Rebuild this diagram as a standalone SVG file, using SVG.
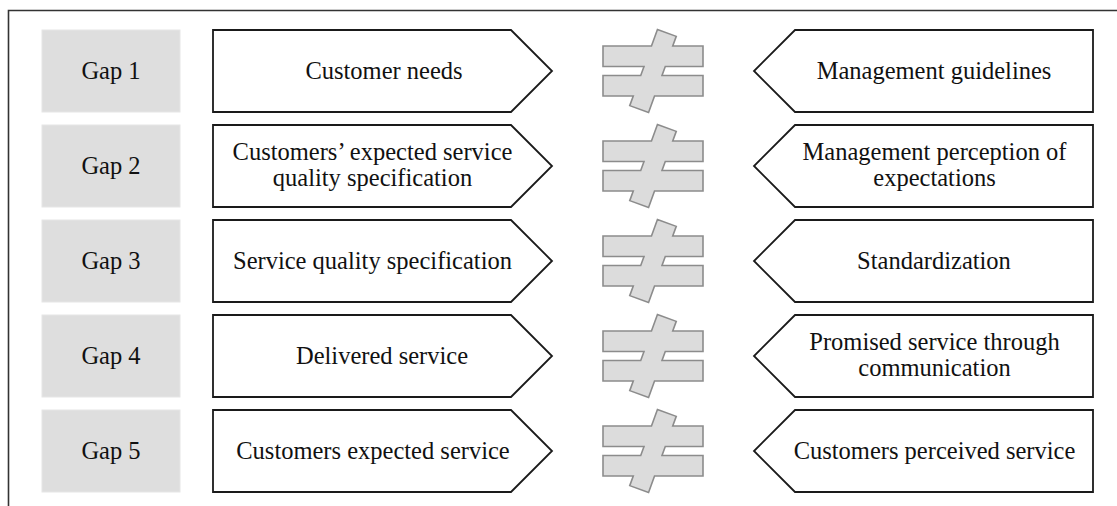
<svg xmlns="http://www.w3.org/2000/svg" width="1117" height="506" viewBox="0 0 1117 506">
<style>
.gap{fill:#dedede;stroke:#e6e6e6;stroke-width:1}
.arr{fill:#ffffff;stroke:#1a1a1a;stroke-width:1.8;stroke-linejoin:miter}
.neq{fill:#dcdcdc;stroke:#8c8c8c;stroke-width:1.6;stroke-linejoin:miter}
text{font-family:"Liberation Serif","Times New Roman",serif;font-size:24.5px;fill:#111;text-anchor:middle}
.frame{fill:none;stroke:#333;stroke-width:1.6}
</style>
<defs>
<path id="neqShape" class="neq" d="M4.45,-41.48 L23.25,-34.64 L19.74,-25 L50,-25 L50,-4.5 L12.28,-4.5 L9,4.5 L50,4.5 L50,25 L1.54,25 L-4.45,41.48 L-23.25,34.64 L-19.74,25 L-50,25 L-50,4.5 L-12.28,4.5 L-9,-4.5 L-50,-4.5 L-50,-25 L-1.54,-25 Z"/>
<path id="leftArr" class="arr" d="M213,-41 L511,-41 L552,0 L511,41 L213,41 Z"/>
<path id="rightArr" class="arr" d="M795,-41 L1093,-41 L1093,41 L795,41 L754,0 Z"/>
</defs>
<path class="frame" d="M8.5,506 L8.5,10.5 L1117,10.5"/>
<g id="connectors"></g>

<g id="row1" transform="translate(0,71)">
<g id="gap1"><rect class="gap" x="42" y="-41" width="138" height="82"/><text x="111" y="7.5">Gap 1</text></g>
<g id="left1"><use href="#leftArr"/><text x="384" y="7.5">Customer needs</text></g>
<g id="neq1"><use href="#neqShape" x="653"/></g>
<g id="right1"><use href="#rightArr"/><text x="934" y="7.5">Management guidelines</text></g>
</g>

<g id="row2" transform="translate(0,166)">
<g id="gap2"><rect class="gap" x="42" y="-41" width="138" height="82"/><text x="111" y="7.5">Gap 2</text></g>
<g id="left2"><use href="#leftArr"/><text x="372.5" y="-6">Customers’ expected service</text><text x="372.5" y="20">quality specification</text></g>
<g id="neq2"><use href="#neqShape" x="653"/></g>
<g id="right2"><use href="#rightArr"/><text x="934.5" y="-6">Management perception of</text><text x="934.5" y="20">expectations</text></g>
</g>

<g id="row3" transform="translate(0,261)">
<g id="gap3"><rect class="gap" x="42" y="-41" width="138" height="82"/><text x="111" y="7.5">Gap 3</text></g>
<g id="left3"><use href="#leftArr"/><text x="372.5" y="7.5">Service quality specification</text></g>
<g id="neq3"><use href="#neqShape" x="653"/></g>
<g id="right3"><use href="#rightArr"/><text x="934" y="7.5">Standardization</text></g>
</g>

<g id="row4" transform="translate(0,356)">
<g id="gap4"><rect class="gap" x="42" y="-41" width="138" height="82"/><text x="111" y="7.5">Gap 4</text></g>
<g id="left4"><use href="#leftArr"/><text x="382" y="7.5">Delivered service</text></g>
<g id="neq4"><use href="#neqShape" x="653"/></g>
<g id="right4"><use href="#rightArr"/><text x="934.5" y="-6">Promised service through</text><text x="934.5" y="20">communication</text></g>
</g>

<g id="row5" transform="translate(0,451)">
<g id="gap5"><rect class="gap" x="42" y="-41" width="138" height="82"/><text x="111" y="7.5">Gap 5</text></g>
<g id="left5"><use href="#leftArr"/><text x="373" y="7.5">Customers expected service</text></g>
<g id="neq5"><use href="#neqShape" x="653"/></g>
<g id="right5"><use href="#rightArr"/><text x="934.5" y="7.5">Customers perceived service</text></g>
</g>
</svg>
